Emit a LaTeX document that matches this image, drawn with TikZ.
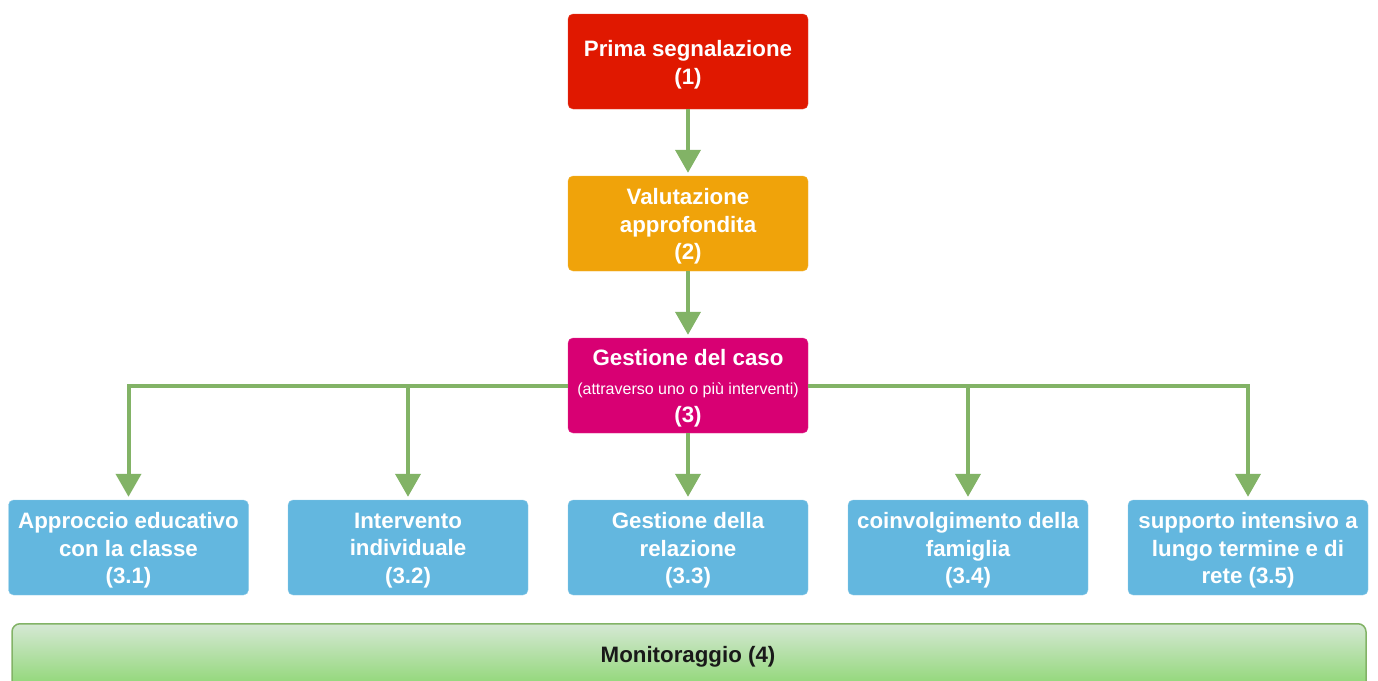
\documentclass[tikz,border=0pt]{standalone}
\usepackage{fontspec}
\setmainfont{Liberation Sans}
\usetikzlibrary{arrows.meta}
\definecolor{cred}{HTML}{E01800}
\definecolor{corange}{HTML}{F0A30A}
\definecolor{cmag}{HTML}{D80073}
\definecolor{cblue}{HTML}{63B7DF}
\definecolor{cgreen}{HTML}{82B366}
\definecolor{gtop}{HTML}{D5E8D4}
\definecolor{gbot}{HTML}{97D077}
\tikzset{
  box/.style={rectangle, rounded corners=5pt, minimum width=240pt, minimum height=95pt,
    inner sep=0pt, align=center, text=white, font=\fontsize{22.3}{27.5}\selectfont\bfseries},
  conn/.style={draw=cgreen, line width=4pt, -{Triangle[width=25pt,length=23pt]}, shorten >=3pt},
}
\begin{document}
\begin{tikzpicture}[x=1pt,y=-1pt]
\useasboundingbox (0,0) rectangle (1378,680);
\clip (0,0) rectangle (1378,680);
\node[box, fill=cred, draw=cred!80!white] (b1) at (688,61.5) {};
\node[box, fill=corange, draw=corange!80!white] (b2) at (688,223.5) {};
\node[box, fill=cmag, draw=cmag!80!white] (b3) at (688,385.5) {};
\node[box, fill=cblue, draw=cblue!70!white] (b31) at (128.5,547.5) {};
\node[box, fill=cblue, draw=cblue!70!white] (b32) at (408,547.5) {};
\node[box, fill=cblue, draw=cblue!70!white] (b33) at (688,547.5) {};
\node[box, fill=cblue, draw=cblue!70!white] (b34) at (968,547.5) {};
\node[box, fill=cblue, draw=cblue!70!white] (b35) at (1248,547.5) {};
\node[box, fill=none, draw=none] (t1) at (688,64.5) {Prima segnalazione\\(1)};
\node[box, fill=none, draw=none] (t2) at (688,226.5) {Valutazione\\approfondita\\(2)};
\node[box, fill=none, draw=none] (t3) at (688,388.5) {Gestione del caso\\[1pt]{\fontsize{16}{18}\selectfont\mdseries (attraverso uno o più interventi)}\\[1pt](3)};
\node[box, fill=none, draw=none] (t31) at (128.5,550.5) {Approccio educativo\\con la classe\\(3.1)};
\node[box, fill=none, draw=none] (t32) at (408,550.5) {Intervento\\individuale\\(3.2)};
\node[box, fill=none, draw=none] (t33) at (688,550.5) {Gestione della\\relazione\\(3.3)};
\node[box, fill=none, draw=none] (t34) at (968,550.5) {coinvolgimento della\\famiglia\\(3.4)};
\node[box, fill=none, draw=none] (t35) at (1248,550.5) {supporto intensivo a\\lungo termine e di\\rete (3.5)};
\node[rectangle, rounded corners=8pt, minimum width=1354pt, minimum height=70pt, inner sep=0pt,
  top color=gtop, bottom color=gbot!90!green, draw=cgreen, line width=1.5pt,
  anchor=north] (mon) at (689,623) {};
\node[font=\fontsize{22.3}{24}\selectfont\bfseries, text=black!90] (mont) at (688,657) {Monitoraggio (4)};
\draw[conn] (b1.south) -- (b2.north);
\draw[conn] (b2.south) -- (b3.north);
\draw[conn] (b3.south) -- (b33.north);
\draw[conn] (b3.west) -| (b31.north);
\draw[conn] (b3.west) -| (b32.north);
\draw[conn] (b3.east) -| (b34.north);
\draw[conn] (b3.east) -| (b35.north);
\end{tikzpicture}
\end{document}
